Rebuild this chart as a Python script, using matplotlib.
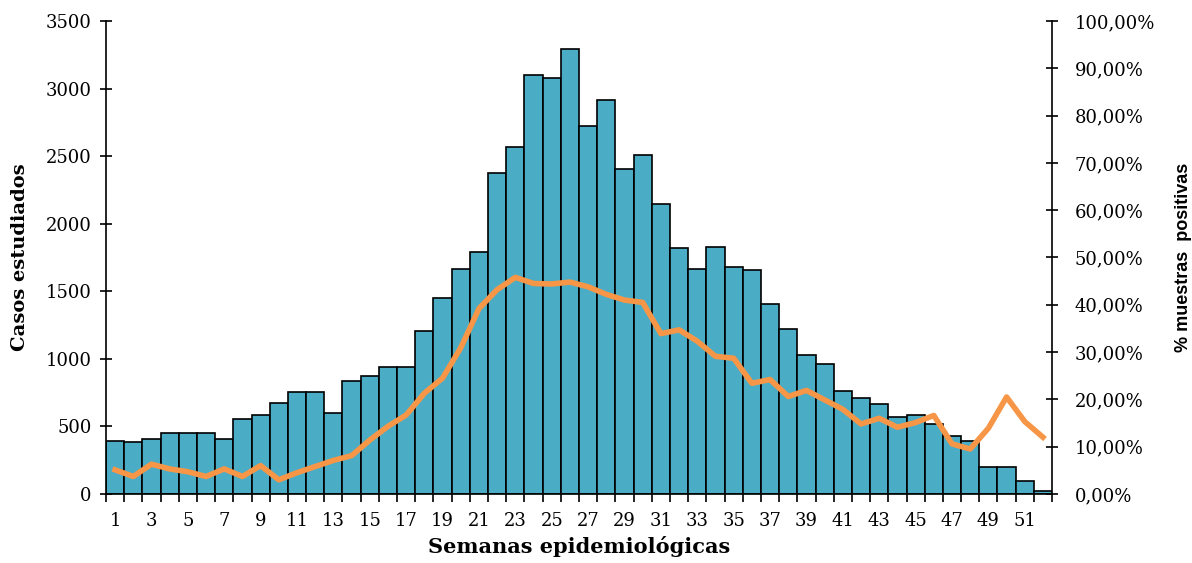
import matplotlib
matplotlib.use("Agg")
import matplotlib.pyplot as plt
import numpy as np

weeks = list(range(1, 53))
casos = [395, 383, 405, 452, 452, 452, 405, 554, 588, 670,
         756, 756, 600, 838, 872, 942, 942, 1203, 1451, 1668,
         1792, 2373, 2566, 3097, 3075, 3292, 2724, 2919, 2405, 2509,
         2145, 1817, 1668, 1826, 1678, 1656, 1404, 1221, 1028, 962,
         759, 712, 667, 566, 588, 519, 430, 395, 203, 203,
         99, 20]
positivas = [5.1, 3.7, 6.3, 5.3, 4.7, 3.7, 5.3, 3.7, 6.0, 3.0,
             4.5, 5.8, 7.1, 8.1, 11.4, 14.3, 16.7, 21.3, 24.5, 30.9,
             39.2, 43.2, 45.8, 44.5, 44.4, 44.8, 43.8, 42.2, 41.0, 40.5,
             33.9, 34.7, 32.3, 29.1, 28.7, 23.4, 24.2, 20.6, 21.9, 19.9,
             17.9, 14.8, 16.0, 14.1, 15.1, 16.6, 10.6, 9.5, 13.9, 20.5,
             15.3, 12.0]

serif = "DejaVu Serif"

fig = plt.figure(figsize=(11.92, 5.63), dpi=100)
ax = fig.add_axes([0.0889, 0.1226, 0.7937, 0.8401])

ax.bar(weeks, casos, width=1.0, color="#4BACC6", edgecolor="black", linewidth=1.2, zorder=2)
ax.set_xlim(0.5, 52.5)
ax.set_ylim(0, 3500)
ax.set_yticks(np.arange(0, 3501, 500))
ax.set_xticks(range(1, 53, 2))
ax.set_xticks(np.arange(0.5, 53, 1), minor=True)
ax.tick_params(axis="x", which="major", length=0, pad=13, labelsize=13)
ax.tick_params(axis="x", which="minor", direction="out", length=6, width=1.2)
ax.tick_params(axis="y", direction="inout", length=9, width=1.2, labelsize=13, pad=6)
for lab in ax.get_xticklabels() + ax.get_yticklabels():
    lab.set_fontfamily(serif)
for s in ["top", "right"]:
    ax.spines[s].set_visible(False)
ax.spines["left"].set_linewidth(1.2)
ax.spines["bottom"].set_linewidth(1.2)

ax.set_ylabel("Casos estudiados", fontfamily=serif, fontweight="bold", fontsize=14, labelpad=12)
ax.set_xlabel("Semanas epidemiológicas", fontfamily=serif, fontweight="bold", fontsize=15, labelpad=4)

ax2 = ax.twinx()
ax2.plot(weeks, positivas, color="#F79646", linewidth=4, solid_joinstyle="round", zorder=3)
ax2.set_ylim(0, 100)
ax2.set_yticks(np.arange(0, 101, 10))
ax2.set_yticklabels([f"{v},00%" for v in range(0, 101, 10)])
ax2.tick_params(axis="y", direction="inout", length=9, width=1.2, labelsize=13, pad=12)
for lab in ax2.get_yticklabels():
    lab.set_fontfamily(serif)
for s in ["top", "left", "bottom"]:
    ax2.spines[s].set_visible(False)
ax2.spines["right"].set_linewidth(1.2)
ax2.set_ylabel("% muestras  positivas", fontfamily="Liberation Sans", fontweight="bold",
               fontsize=13, labelpad=14)

fig.savefig("out.png", dpi=100)
